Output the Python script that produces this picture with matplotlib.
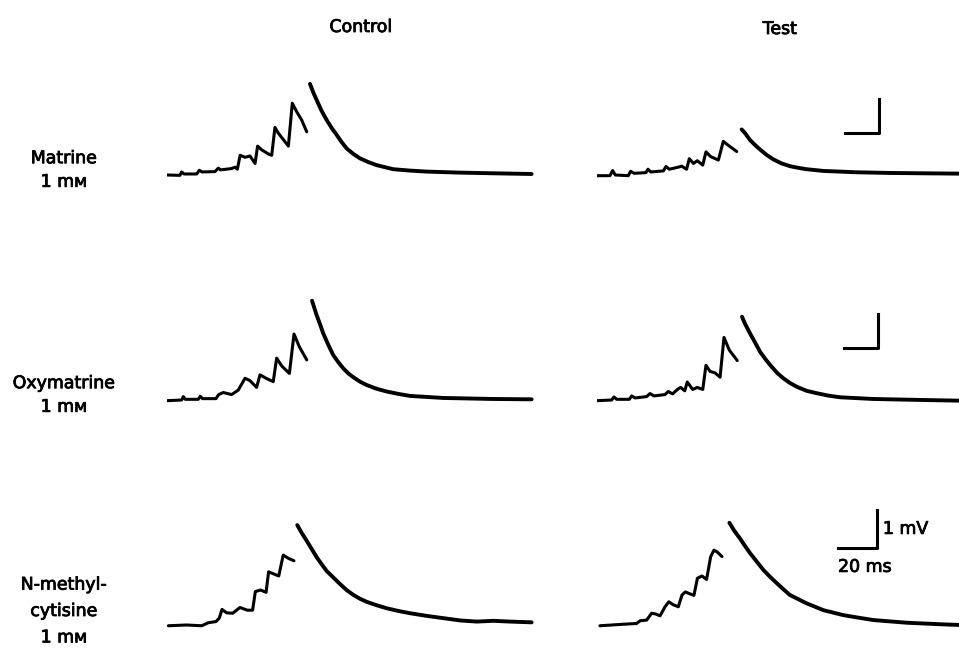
import numpy as np
import matplotlib.pyplot as plt
import matplotlib.patheffects as pe

plt.rcParams['font.family'] = ['DejaVu Sans']

# ---- traces: time (ms), membrane potential (mV above baseline) ----
# Matrine, control
mat_ctrl_t = [0, 7.6, 8.6, 10.0, 17.5, 19.0, 20.6, 28.2, 30.2, 31.6, 38.0, 40.0, 41.4, 43.0, 45.9,
              48.8, 51.8, 53.3, 55.7, 59.6, 61.6, 63.5, 65.5, 71.4, 73.7, 76.3, 79.2, 82.2,
              84.1, 86.1, 88.0, 90.9, 93.9, 96.9, 99.8, 102.7, 105.7, 109.6, 113.5, 118.4, 123.3,
              128.2, 133.1, 142.9, 152.7, 172.4, 192.0, 214.5]
mat_ctrl_v = [0, -0.01, 0.09, 0.03, 0.03, 0.14, 0.09, 0.10, 0.20, 0.15, 0.19, 0.23, 0.17, 0.58, 0.52,
              0.56, 0.34, 0.85, 0.74, 0.62, 0.58, 1.40, 1.23, 0.85, 2.11, 1.86, 1.62, 1.27,
              2.68, 2.42, 2.21, 1.89, 1.62, 1.38, 1.18, 0.97, 0.78, 0.62, 0.49, 0.38, 0.29,
              0.23, 0.17, 0.13, 0.10, 0.07, 0.05, 0.03]
# Matrine, test
mat_test_t = [0, 7.6, 9.2, 10.8, 18.4, 19.8, 21.8, 28.8, 30.0, 31.6, 39.0, 40.6, 42.5, 47.8, 49.8,
              52.7, 54.3, 56.7, 59.0, 62.2, 64.1, 66.9, 71.4, 74.3, 77.3, 82.2,
              85.1, 87.1, 90.0, 93.0, 95.9, 99.8, 103.7, 108.6, 113.5, 118.4, 123.3, 133.1, 152.7,
              172.4, 192.0, 213.5]
mat_test_v = [-0.02, -0.02, 0.13, 0, -0.02, 0.11, 0.05, 0.07, 0.17, 0.09, 0.12, 0.25, 0.17, 0.23, 0.26,
              0.17, 0.48, 0.34, 0.42, 0.29, 0.68, 0.54, 0.44, 0.99, 0.87, 0.69,
              1.34, 1.23, 1.03, 0.88, 0.75, 0.59, 0.46, 0.34, 0.26, 0.21, 0.17, 0.12, 0.08,
              0.06, 0.05, 0.04]
# Oxymatrine, control
oxy_ctrl_t = [0, 8.6, 9.6, 10.8, 18.4, 19.6, 20.9, 28.8, 30.4, 33.1, 38.0, 41.9, 45.9, 48.8, 52.7,
              54.7, 58.6, 62.5, 64.5, 67.5, 72.0, 74.7, 77.8, 82.2,
              85.3, 86.7, 88.0, 90.0, 91.9, 94.9, 97.8, 100.8, 103.7, 106.7, 109.6, 113.5, 117.5,
              123.3, 129.2, 136.0, 143.0, 162.5, 192.0, 214.5]
oxy_ctrl_v = [-0.02, 0, 0.10, 0.02, 0.02, 0.11, 0.04, 0.04, 0.16, 0.22, 0.16, 0.29, 0.64, 0.57, 0.37,
              0.74, 0.63, 0.54, 1.23, 1.00, 0.78, 1.94, 1.57, 1.18,
              2.92, 2.70, 2.50, 2.23, 1.96, 1.62, 1.32, 1.11, 0.93, 0.78, 0.67, 0.54, 0.44,
              0.33, 0.25, 0.18, 0.12, 0.06, 0.03, 0.02]
# Oxymatrine, test
oxy_test_t = [0, 8.6, 10.0, 11.6, 19.0, 20.4, 22.4, 29.2, 31.2, 33.5, 40.0, 41.9, 44.5, 47.3, 49.2,
              51.6, 53.1, 56.3, 59.0, 62.2, 64.1, 66.5, 69.4, 72.4, 74.7, 77.8, 82.5,
              85.3, 87.1, 90.0, 93.0, 95.9, 99.4, 102.7, 106.1, 109.6, 113.5, 117.5, 123.3, 129.2,
              136.0, 143.0, 162.5, 192.0, 213.5]
oxy_test_v = [-0.02, 0, 0.09, 0.02, 0.02, 0.12, 0.06, 0.10, 0.19, 0.12, 0.16, 0.25, 0.18, 0.31, 0.37,
              0.27, 0.53, 0.31, 0.37, 0.31, 1.02, 0.84, 0.80, 0.67, 1.84, 1.47, 1.16,
              2.45, 2.24, 1.96, 1.69, 1.42, 1.18, 0.98, 0.79, 0.64, 0.50, 0.39, 0.27, 0.20,
              0.13, 0.08, 0.03, 0, -0.02]
# N-methylcytisine, control
nmc_ctrl_t = [0.7, 10.1, 17.8, 21.2, 25.1, 26.8, 28.2, 30.6, 33.7, 37.4, 41.2, 43.9, 45.3, 48.0, 50.8,
              52.1, 54.9, 57.3, 59.6, 62.4, 65.1,
              66.8, 69.0, 71.6, 74.2, 76.8, 79.3, 81.9, 85.3, 88.7, 92.1, 95.6, 99.0, 102.4, 107.5,
              112.7, 118.6, 124.6, 133.2, 141.7, 150.3, 158.8, 167.4, 175.9, 187.0]
nmc_ctrl_v = [-0.02, 0, -0.02, 0.06, 0.09, 0.18, 0.41, 0.32, 0.31, 0.46, 0.39, 0.39, 0.88, 0.92, 0.86,
              1.40, 1.34, 1.29, 1.84, 1.75, 1.69,
              2.63, 2.43, 2.22, 2.00, 1.78, 1.60, 1.42, 1.25, 1.08, 0.92, 0.79, 0.69, 0.61, 0.52,
              0.44, 0.37, 0.31, 0.24, 0.18, 0.12, 0.09, 0.11, 0.09, 0.07]
# N-methylcytisine, test
nmc_test_t = [1.5, 13.5, 20.3, 22.1, 25.5, 28.0, 30.1, 32.3, 34.9, 36.8, 39.2, 41.7, 43.6, 45.3, 47.7,
              49.7, 51.5, 53.8, 56.2, 58.3, 60.0, 61.7, 64.1,
              67.9, 70.4, 73.3, 75.9, 78.5, 81.9, 85.3, 88.7, 92.2, 95.6, 98.9, 103.2, 107.5, 111.8,
              116.1, 126.3, 133.2, 141.7, 158.8, 175.9, 186.2]
nmc_test_v = [-0.02, 0.02, 0.04, 0.11, 0.13, 0.31, 0.29, 0.24, 0.48, 0.61, 0.53, 0.48, 0.79, 0.87, 0.82,
              0.78, 1.23, 1.29, 1.20, 1.80, 1.97, 1.92, 1.80,
              2.69, 2.48, 2.28, 2.08, 1.89, 1.67, 1.45, 1.27, 1.10, 0.94, 0.79, 0.68, 0.57, 0.48,
              0.39, 0.26, 0.20, 0.13, 0.06, 0.02, 0]

row_labels = ['Matrine\n1 m\u1d0d', 'Oxymatrine\n1 m\u1d0d', 'N-methyl-\ncytisine\n1 m\u1d0d']
col_titles = ['Control', 'Test']
traces = [[(mat_ctrl_t, mat_ctrl_v), (mat_test_t, mat_test_v)],
          [(oxy_ctrl_t, oxy_ctrl_v), (oxy_test_t, oxy_test_v)],
          [(nmc_ctrl_t, nmc_ctrl_v), (nmc_test_t, nmc_test_v)]]
bar_ms, bar_mv = 20, 1

# ---- layout (pixels of the 959x654 image) ----
W, H = 959, 654
px_ms = [1.7, 1.7, 1.95]        # horizontal gain of each row
px_mv = [34, 34, 38]            # vertical gain of each row
base_y = [175, 400, 625]        # baseline of each row
col_x = [167, 597]
bar_corner = [(166, 1.24), (165, 1.53), (143.6, 2.03)]   # (ms, mV) in the Test panel
label_y = [170, 395, 611]
label_ls = [1.4, 1.4, 1.6]

fig = plt.figure(figsize=(W / 100, H / 100), dpi=100)
fs = 12.5
heavy = [pe.withStroke(linewidth=0.6, foreground='black')]

for r in range(3):
    sx, sy = px_ms[r], px_mv[r]
    for c in range(2):
        ax_w = 385
        lo, hi = -0.4, 3.2
        ax = fig.add_axes([col_x[c] / W, 1 - (base_y[r] - lo * sy) / H,
                           ax_w / W, (hi - lo) * sy / H])
        ax.set_xlim(0, ax_w / sx)
        ax.set_ylim(lo, hi)
        ax.axis('off')
        t, v = np.array(traces[r][c][0]), np.array(traces[r][c][1])
        k = int(np.argmax(v))
        ax.plot(t[:k], v[:k], color='black', lw=2.2, solid_joinstyle='round',
                solid_capstyle='round')
        ax.plot(t[k:], v[k:], color='black', lw=2.8, solid_capstyle='round',
                solid_joinstyle='round')
        if c == 1:
            tc, vc = bar_corner[r]
            ax.plot([tc - bar_ms, tc, tc], [vc, vc, vc + bar_mv], color='black', lw=2.2,
                    clip_on=False)
            if r == 2:
                ax.text(tc + 3, vc + 0.5 * bar_mv, '1 mV', fontsize=fs, ha='left', va='center',
                        path_effects=heavy)
                ax.text(tc - bar_ms, vc - 0.5 * bar_mv, '20 ms', fontsize=fs, ha='left',
                        va='center', path_effects=heavy)
    fig.text(64 / W, 1 - label_y[r] / H, row_labels[r], fontsize=fs, ha='center', va='center',
             linespacing=label_ls[r], multialignment='center', path_effects=heavy)

fig.text(361 / W, 1 - 27 / H, col_titles[0], fontsize=fs, ha='center', va='center',
         path_effects=heavy)
fig.text(780 / W, 1 - 29 / H, col_titles[1], fontsize=fs, ha='center', va='center',
         path_effects=heavy)

fig.savefig('out.png', dpi=100, facecolor='white')
